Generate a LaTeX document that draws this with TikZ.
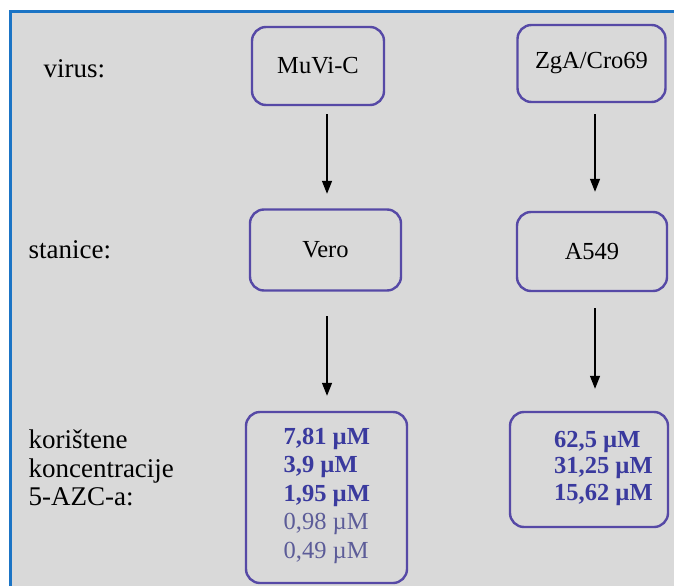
\documentclass[tikz,border=0pt]{standalone}
\usepackage{fontspec}
\setmainfont{Liberation Serif}
\usetikzlibrary{arrows.meta}
\definecolor{panel}{HTML}{D9D9D9}
\definecolor{frameblue}{HTML}{1B74C5}
\definecolor{boxline}{HTML}{5649A6}
\definecolor{concstrong}{HTML}{3A3A9E}
\definecolor{concweak}{HTML}{5C5C98}
\begin{document}
\begin{tikzpicture}[x=1pt,y=-1pt,
  box/.style={draw=boxline, line width=2.4pt, rounded corners=14pt, inner sep=0pt},
  lbl/.style={font=\fontsize{24.5}{28}\selectfont, text=black},
  side/.style={font=\fontsize{27}{28.5}\selectfont, anchor=west, align=left, text=black},
  flow/.style={line width=1.3pt, -{Triangle[width=10pt,length=13pt]}},
  conclist/.style={anchor=north west, inner sep=0pt, align=left, text=concstrong},
]
% page and grey panel with blue top/left frame
\useasboundingbox (0,0) rectangle (674,586);
\fill[white] (0,0) rectangle (674,586);
\fill[panel] (10,11) rectangle (674,586);
\draw[frameblue, line width=3pt] (10.5,586) -- (10.5,11.5) -- (674,11.5);

% row labels
\node[side] (lvirus) at (40,69) {virus:};
\node[side] (lcells) at (25,250) {stanice:};
\node[side] (lconc) at (25,468) {korištene\\koncentracije\\5-AZC-a:};

% boxes
\node[box, lbl, minimum width=132pt, minimum height=78pt] (muvi) at (318,66) {MuVi-C};
\node[box, lbl, minimum width=148pt, minimum height=77pt] (zga) at (591.5,63.5) {ZgA/Cro69};
\node[box, lbl, minimum width=151pt, minimum height=81pt] (vero) at (325.5,250) {Vero};
\node[box, lbl, minimum width=150pt, minimum height=79pt] (a549) at (592,251.5) {A549};
\node[box, minimum width=161pt, minimum height=171pt] (c1) at (326.5,497.5) {};
\node[box, minimum width=158pt, minimum height=115pt] (c2) at (589,469.5) {};

% concentrations
\node[conclist, font=\fontsize{24.5}{28.5}\selectfont] (c1txt) at ([shift={(-43,17)}]c1.north)
  {\bfseries 7,81 µM\\
   \bfseries 3,9 µM\\
   \bfseries 1,95 µM\\
   \color{concweak}0,98 µM\\
   \color{concweak}0,49 µM};
\node[conclist, font=\fontsize{24.5}{26.5}\selectfont\bfseries] (c2txt) at ([shift={(-35,20)}]c2.north)
  {62,5 µM\\
   31,25 µM\\
   15,62 µM};

% arrows
\draw[flow] ([shift={(9,8)}]muvi.south) -- ([shift={(1.5,-14.5)}]vero.north);
\draw[flow] ([shift={(3.5,11)}]zga.south) -- ([shift={(3,-19)}]a549.north);
\draw[flow] ([shift={(1.5,24.5)}]vero.south) -- ([shift={(0.5,-15)}]c1.north);
\draw[flow] ([shift={(3,16)}]a549.south) -- ([shift={(6,-22)}]c2.north);
\end{tikzpicture}
\end{document}
